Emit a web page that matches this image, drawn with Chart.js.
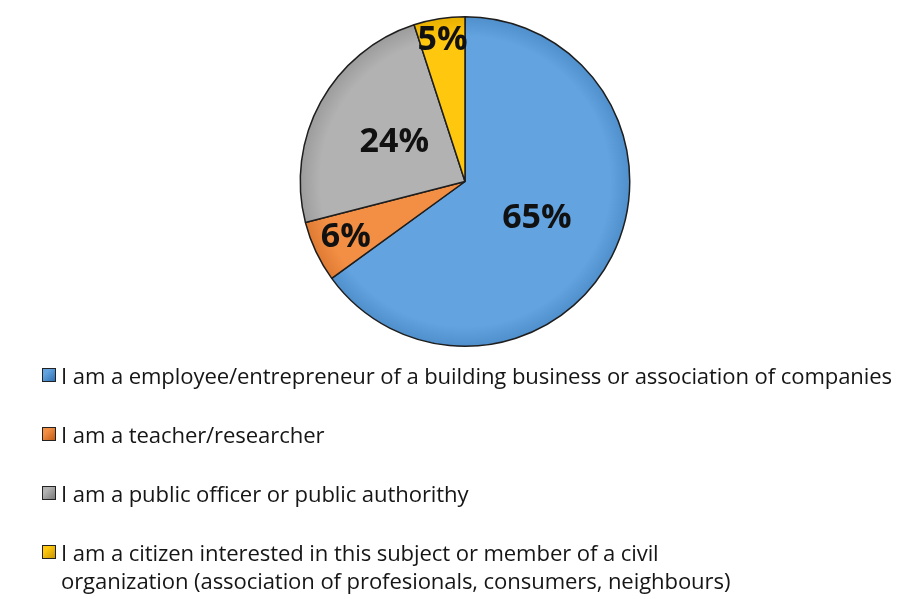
<!DOCTYPE html>
<html>
<head>
<meta charset="utf-8">
<script src="https://cdn.jsdelivr.net/npm/chart.js@4"></script>
<style>
  html, body { margin: 0; padding: 0; background: #fff; }
  #wrap { position: relative; width: 916px; height: 599px; }
  #pie { position: absolute; left: 0; top: 0; }
  #legend { position: absolute; left: 40px; top: 361px; font-family: "Open Sans", sans-serif; font-size: 22.1px; letter-spacing: -0.1px; color: #161616; }
  .item { position: relative; padding-left: 21px; line-height: 28px; margin-bottom: 31px; white-space: nowrap; }
  .item .box { position: absolute; left: 2px; top: 7px; width: 12px; height: 12px; border: 1px solid #222; }
</style>
</head>
<body>
<div id="wrap">
  <canvas id="pie" width="916" height="599"></canvas>
  <div id="legend"></div>
</div>
<script>
const categories = [
  "I am a employee/entrepreneur of a building business or association of companies",
  "I am a teacher/researcher",
  "I am a public officer or public authorithy",
  ["I am a citizen interested in this subject or member of a civil",
   "organization (association of profesionals, consumers, neighbours)"],
];
const shares = [65, 6, 24, 5];
const sliceColors = ["#62a3e0", "#f38f45", "#b2b2b2", "#ffc80e"];
const rimColors = ["#4f8fcc", "#de7a32", "#9c9c9c", "#e8b000"];
const boxDark = ["#2f6fb0", "#c25a14", "#7a7a7a", "#c99400"];
// radial spot for each label, as a fraction of the radius
const labelRadius = [0.49, 0.8, 0.49, 0.87];

// flat fill with a slightly darker rim
function sliceFill(c) {
  const chart = c.chart;
  const arc = chart.getDatasetMeta(0).data[c.dataIndex];
  if (!arc || !arc.outerRadius) return sliceColors[c.dataIndex];
  const g = chart.ctx.createRadialGradient(arc.x, arc.y, 0, arc.x, arc.y, arc.outerRadius);
  g.addColorStop(0, sliceColors[c.dataIndex]);
  g.addColorStop(0.88, sliceColors[c.dataIndex]);
  g.addColorStop(1, rimColors[c.dataIndex]);
  return g;
}

const sliceLabels = {
  id: "sliceLabels",
  afterDatasetsDraw(chart) {
    const ctx = chart.ctx;
    const meta = chart.getDatasetMeta(0);
    ctx.save();
    ctx.font = "bold 34px 'Open Sans', sans-serif";
    ctx.fillStyle = "#111";
    ctx.textAlign = "center";
    ctx.textBaseline = "middle";
    meta.data.forEach((arc, i) => {
      const p = arc.getProps(["x", "y", "startAngle", "endAngle", "outerRadius"], true);
      const mid = (p.startAngle + p.endAngle) / 2;
      const r = p.outerRadius * labelRadius[i];
      ctx.fillText(shares[i] + "%", p.x + Math.cos(mid) * r, p.y + Math.sin(mid) * r);
    });
    ctx.restore();
  },
};

const chart = new Chart(document.getElementById("pie"), {
  type: "pie",
  data: {
    labels: categories.map(c => Array.isArray(c) ? c.join(" ") : c),
    datasets: [{
      data: shares,
      backgroundColor: sliceColors,
      borderColor: "#1e1e1e",
      borderWidth: 1.5,
    }],
  },
  options: {
    responsive: false,
    animation: false,
    layout: { padding: { top: 16, bottom: 252, left: 14, right: 0 } },
    plugins: { legend: { display: false }, tooltip: { enabled: false } },
  },
  plugins: [sliceLabels],
});
chart.data.datasets[0].backgroundColor = sliceFill;
chart.update();

const legend = document.getElementById("legend");
categories.forEach((c, i) => {
  const item = document.createElement("div");
  item.className = "item";
  const box = document.createElement("span");
  box.className = "box";
  box.style.background = `linear-gradient(135deg, ${sliceColors[i]} 30%, ${boxDark[i]})`;
  item.appendChild(box);
  const lines = Array.isArray(c) ? c : [c];
  lines.forEach((t, j) => {
    if (j) item.appendChild(document.createElement("br"));
    item.appendChild(document.createTextNode(t));
  });
  legend.appendChild(item);
});
</script>
</body>
</html>
